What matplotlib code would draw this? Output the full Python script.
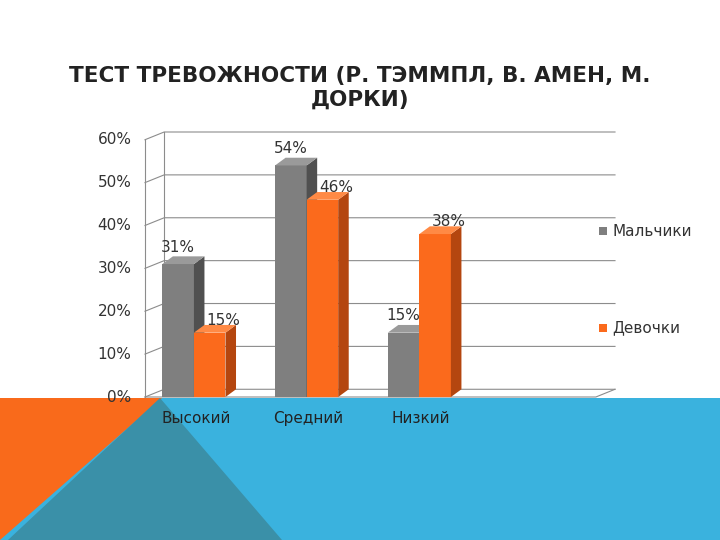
import matplotlib
matplotlib.use("Agg")
import matplotlib.pyplot as plt
from matplotlib.patches import Polygon

categories = ["Высокий", "Средний", "Низкий", ""]
boys = [0.31, 0.54, 0.15, None]
girls = [0.15, 0.46, 0.38, None]
series_names = ["Мальчики", "Девочки"]
yticks = [0, 0.1, 0.2, 0.3, 0.4, 0.5, 0.6]
ytick_labels = ["0%", "10%", "20%", "30%", "40%", "50%", "60%"]
title = "ТЕСТ ТРЕВОЖНОСТИ (Р. ТЭММПЛ, В. АМЕН, М.\nДОРКИ)"

W, H = 720, 540
fig = plt.figure(figsize=(7.2, 5.4), dpi=100)
fig.patch.set_facecolor("white")

def P(x, y):
    return (x / W, 1 - y / H)

# background shapes
fig.patches.append(Polygon([P(0, 398), P(720, 398), P(720, 540), P(0, 540)], closed=True,
                           transform=fig.transFigure, facecolor="#3AB2DE", edgecolor="none", zorder=-5))
fig.patches.append(Polygon([P(0, 398), P(162, 398), P(0, 540)], closed=True,
                           transform=fig.transFigure, facecolor="#F96A1B", edgecolor="none", zorder=-5))
fig.patches.append(Polygon([P(160, 398), P(282, 540), P(8, 540)], closed=True,
                           transform=fig.transFigure, facecolor="#3A90A8", edgecolor="none", zorder=-5))

fig.text(0.5, 1 - 88 / H, title, ha="center", va="center", fontsize=15.5, fontweight="bold",
         color="#222222", linespacing=1.25)

dx, dy = 0.17, 0.018
ax = fig.add_axes([145 / W, (540 - 397) / H, 470 / W, 265 / H])
ax.set_zorder(1)
ax.patch.set_alpha(0)
ax.set_xlim(-0.5, 3.5 + dx)
ax.set_ylim(0, 0.6 + dy)
for s in ax.spines.values():
    s.set_visible(False)
ax.set_xticks([])
ax.set_yticks([])

gc = "#8C8C8C"
for t, lab in zip(yticks, ytick_labels):
    ax.plot([-0.5, -0.5 + dx, 3.5 + dx], [t, t + dy, t + dy], color=gc, lw=0.8, zorder=1, clip_on=False)
    ax.text(-0.62, t, lab, ha="right", va="center", fontsize=11, color="#333333")
ax.plot([-0.5, -0.5], [0, 0.6], color=gc, lw=0.8, clip_on=False)
ax.plot([-0.5 + dx, -0.5 + dx], [dy, 0.6 + dy], color=gc, lw=0.8, clip_on=False)
ax.plot([-0.5, 3.5, 3.5 + dx], [0, 0, dy], color=gc, lw=0.8, clip_on=False)

bw = 0.28
sx, sy = 0.55, 1.0
styles = [("#7F7F7F", "#505050", "#9A9A9A"), ("#FB6A1C", "#B4460F", "#FF8A45")]
for si, vals in enumerate([boys, girls]):
    front, side, top = styles[si]
    for i, v in enumerate(vals):
        if v is None:
            continue
        x0 = i - 0.5 + 0.154 + si * bw
        ax.bar(x0, v, width=bw, align="edge", color=front, zorder=3)
        ax.add_patch(Polygon([(x0 + bw, 0), (x0 + bw + dx * sx, dy * sy), (x0 + bw + dx * sx, v + dy * sy), (x0 + bw, v)],
                             facecolor=side, edgecolor="none", zorder=3))
        ax.add_patch(Polygon([(x0, v), (x0 + dx * sx, v + dy * sy), (x0 + bw + dx * sx, v + dy * sy), (x0 + bw, v)],
                             facecolor=top, edgecolor="none", zorder=3))
        ax.text(x0 + bw / 2 + si * 0.12, v + 0.022 - si * 0.01, f"{round(v * 100)}%", ha="center", va="bottom",
                fontsize=11, color="#333333", zorder=4)

for i, c in enumerate(categories):
    ax.text(i - 0.05, -0.05, c, ha="center", va="center", fontsize=11, color="#222222", zorder=5)

for name, col, y in zip(series_names, [styles[0][0], styles[1][0]], [231, 328]):
    fig.patches.append(Polygon([P(599, y - 4), P(607, y - 4), P(607, y + 4), P(599, y + 4)],
                               transform=fig.transFigure, facecolor=col, edgecolor="none"))
    fig.text(612 / W, 1 - y / H, name, ha="left", va="center", fontsize=11, color="#333333")

fig.savefig("out.png", dpi=100)
